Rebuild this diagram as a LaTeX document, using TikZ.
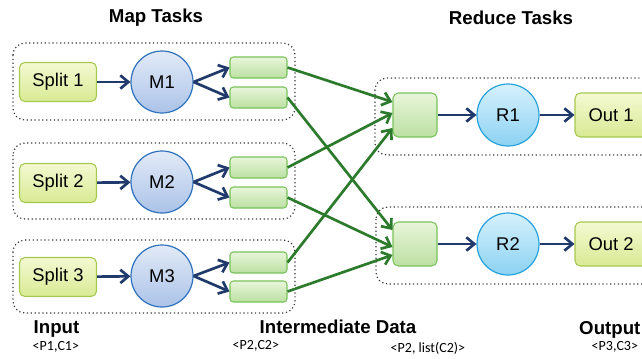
\documentclass[tikz,border=0pt]{standalone}
\usepackage{fontspec}
\setmainfont{Liberation Sans}
\newfontfamily\carl{Carlito}
\usetikzlibrary{arrows.meta,calc}
\definecolor{splitT}{HTML}{F4F9D2}
\definecolor{splitB}{HTML}{D8EA94}
\definecolor{splitD}{HTML}{A6C84E}
\definecolor{mapT}{HTML}{E2EAF7}
\definecolor{mapB}{HTML}{ABC3E8}
\definecolor{mapD}{HTML}{2F72BE}
\definecolor{redT}{HTML}{D6F1FC}
\definecolor{redB}{HTML}{8CD2F3}
\definecolor{redD}{HTML}{27A2DC}
\definecolor{midT}{HTML}{E8F5DA}
\definecolor{midB}{HTML}{BCE0A2}
\definecolor{midD}{HTML}{78C35A}
\definecolor{gline}{HTML}{2C7A2C}
\definecolor{navy}{HTML}{1F3A6B}
\definecolor{dotc}{HTML}{3A3A3A}
\tikzset{
  groupbox/.style={draw=dotc,dotted,line width=0.9pt,rounded corners=9pt},
  splitbox/.style={draw=splitD,line width=0.8pt,rounded corners=4pt,top color=splitT,bottom color=splitB,
    minimum width=57.75pt,minimum height=29.25pt,inner sep=0pt,font=\fontsize{13.8}{16}\selectfont},
  outbox/.style={splitbox,minimum width=54pt,minimum height=33pt},
  mapcirc/.style={circle,draw=mapD,line width=0.9pt,top color=mapT,bottom color=mapB,
    minimum size=46.5pt,inner sep=0pt,font=\fontsize{13.8}{16}\selectfont},
  redcirc/.style={circle,draw=redD,line width=0.9pt,top color=redT,bottom color=redB,
    minimum size=46.5pt,inner sep=0pt,font=\fontsize{13.8}{16}\selectfont},
  midbox/.style={draw=midD,line width=0.8pt,rounded corners=2.5pt,top color=midT,bottom color=midB,
    minimum width=42.75pt,minimum height=15.75pt,inner sep=0pt},
  redbox/.style={draw=midD,line width=0.8pt,rounded corners=4pt,top color=midT,bottom color=midB,
    minimum size=33pt,inner sep=0pt},
  barrow/.style={draw=navy,line width=2pt,-{Straight Barb[length=6pt,width=10pt]}},
  garrow/.style={draw=gline,line width=2pt,-{Straight Barb[length=6pt,width=10pt]}},
  title/.style={font=\bfseries\fontsize{14}{16}\selectfont},
  small/.style={font=\carl\fontsize{10.5}{12}\selectfont},
}
\begin{document}
\begin{tikzpicture}[x=0.75pt,y=-0.75pt]
\useasboundingbox (0,0) rectangle (642,358);
\clip (0,0) rectangle (642,358);
\fill[white] (0,0) rectangle (642,358);

% titles
\node[title] (tmap) at (156,18) {Map Tasks};
\node[title] (tred) at (511,18) {Reduce Tasks};

% map group boxes
\draw[groupbox] (13,43) rectangle (295,120);
\draw[groupbox] (13,143) rectangle (295,219);
\draw[groupbox] (13,240) rectangle (295,313);
% reduce group boxes
\draw[groupbox] (375,78) rectangle (680,155);
\draw[groupbox] (376,207) rectangle (680,284);

% splits
\node[splitbox] (s1) at (58,82) {Split 1};
\node[splitbox] (s2) at (58,183) {Split 2};
\node[splitbox] (s3) at (58,277) {Split 3};
% map circles
\node[mapcirc] (m1) at (162,82) {M1};
\node[mapcirc] (m2) at (162,182) {M2};
\node[mapcirc] (m3) at (162,276) {M3};
% intermediate rects
\node[midbox] (a1) at (258.5,67.5) {};
\node[midbox] (b1) at (258.5,97.5) {};
\node[midbox] (a2) at (258.5,167.5) {};
\node[midbox] (b2) at (258.5,197.5) {};
\node[midbox] (a3) at (258.5,262.5) {};
\node[midbox] (b3) at (258.5,291.5) {};
% reduce squares
\node[redbox] (q1) at (415,115) {};
\node[redbox] (q2) at (415,244) {};
% reduce circles
\node[redcirc] (r1) at (508,115) {R1};
\node[redcirc] (r2) at (508,244) {R2};
% outputs
\node[outbox] (o1) at (611,115) {Out 1};
\node[outbox] (o2) at (611,244) {Out 2};

% blue arrows
\draw[barrow] (s1) -- (m1);
\draw[barrow] (s2) -- (m2);
\draw[barrow] (s3) -- (m3);
\draw[barrow] (m1.east) -- (a1.west);
\draw[barrow] (m1.east) -- (b1.west);
\draw[barrow] (m2.east) -- (a2.west);
\draw[barrow] (m2.east) -- (b2.west);
\draw[barrow] (m3.east) -- (a3.west);
\draw[barrow] (m3.east) -- (b3.west);
\draw[barrow] (q1) -- (r1);
\draw[barrow] (q2) -- (r2);
\draw[barrow] (r1) -- (o1);
\draw[barrow] (r2) -- (o2);

% green arrows
\draw[garrow] (a1.east) -- ($(q1.west)+(0,-13)$);
\draw[garrow] (a2.east) -- ($(q1.west)+(0,-2)$);
\draw[garrow] (a3.east) -- ($(q1.west)+(0,13)$);
\draw[garrow] (b1.east) -- ($(q2.west)+(0,-14)$);
\draw[garrow] (b2.east) -- ($(q2.west)+(0,3)$);
\draw[garrow] (b3.east) -- ($(q2.west)+(0,11)$);

% bottom labels
\node[title,anchor=base west] (lin) at (29,333) {Input};
\node[title,anchor=base] (lmid) at (338,333) {Intermediate Data};
\node[title,anchor=base east,inner xsep=1pt] (lout) at (642,334) {Output};
\node[small,anchor=base west] (p1) at (28,350) {<P1,C1>};
\node[small,anchor=base west] (p2) at (228,349) {<P2,C2>};
\node[small,anchor=base west] (p3) at (386,352) {<P2, list(C2)>};
\node[small,anchor=base west] (p4) at (587,350) {<P3,C3>};
\end{tikzpicture}
\end{document}
